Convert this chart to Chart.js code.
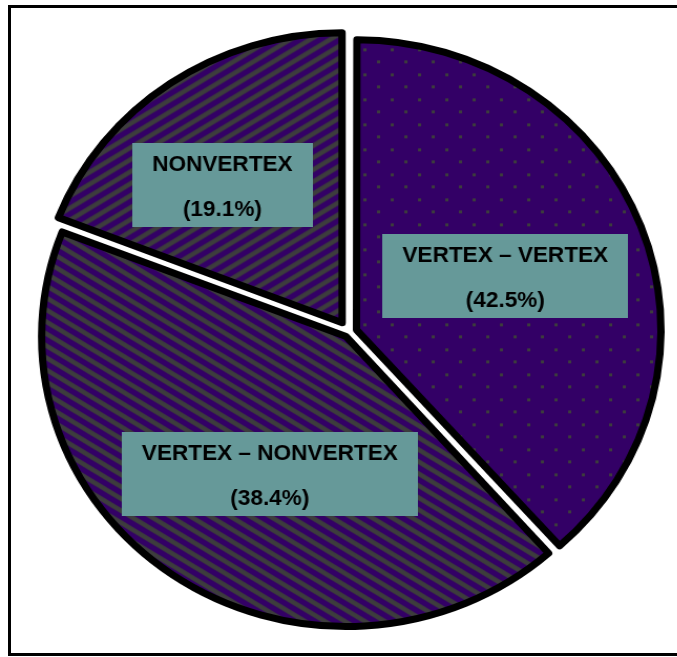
<!DOCTYPE html>
<html lang="en">
<head>
  <meta charset="UTF-8" />
  <title>Vertex pie</title>
  <script src="https://cdn.jsdelivr.net/npm/chart.js"></script>
  <style>
    html, body { margin: 0; padding: 0; background: #fff; overflow: hidden; }
    body { width: 677px; height: 657px; position: relative; }
    #frame {
      position: absolute; left: 8px; top: 5px;
      width: 700px; height: 645px;
      border: 3px solid #000;
    }
    /* the original pie is a little wider than tall */
    #wrap {
      position: absolute; left: 0; top: 0;
      transform: scaleX(1.05); transform-origin: 0 0;
    }
  </style>
</head>
<body>
  <div id="frame"></div>
  <div id="wrap"><canvas id="pie" width="665" height="665"></canvas></div>

  <script>
    // slices clockwise from 12 o'clock
    const categories = ['VERTEX – VERTEX', 'VERTEX – NONVERTEX', 'NONVERTEX'];
    // angular size of each slice as it is drawn in the picture
    const sliceShares = [38.4, 42.5, 19.1];
    // percentage text printed in each slice's box
    const shareLabels = ['(42.5%)', '(38.4%)', '(19.1%)'];

    const PURPLE = '#330066';
    const GREY = '#3d3d3d';

    function makeTile(w, h, draw) {
      const c = document.createElement('canvas');
      c.width = w; c.height = h;
      const g = c.getContext('2d');
      g.fillStyle = PURPLE;
      g.fillRect(0, 0, w, h);
      draw(g, w, h);
      return document.createElement('canvas').getContext('2d').createPattern(c, 'repeat');
    }

    const dots = makeTile(26, 25, (g) => {
      g.fillStyle = GREY;
      g.fillRect(1, 1, 3, 3);
      g.fillRect(14, 13, 3, 3);
    });

    // dir 1 = "/" , dir -1 = "\"
    const stripes = (dir) => makeTile(19, 12, (g, w, h) => {
      g.strokeStyle = GREY;
      g.lineWidth = 4.7;
      for (let k = -2; k <= 2; k++) {
        g.beginPath();
        if (dir > 0) { g.moveTo(k * w - w, 2 * h); g.lineTo(k * w + 2 * w, -h); }
        else { g.moveTo(k * w - w, -h); g.lineTo(k * w + 2 * w, 2 * h); }
        g.stroke();
      }
    });

    // chart.js grows an offset arc's radius a little (offset/4 * fix); take that back so all slices share one radius
    const evenRadius = {
      id: 'evenRadius',
      afterDatasetUpdate(chart, args) {
        args.meta.data.forEach(arc => {
          const o = (arc.options.offset || 0) / 4;
          const fix = 1 - Math.sin(Math.min(Math.PI, arc.circumference));
          arc.outerRadius -= o * fix;
        });
      }
    };

    const sliceLabels = {
      id: 'sliceLabels',
      afterDatasetsDraw(chart, args, opts) {
        const ctx = chart.ctx;
        const meta = chart.getDatasetMeta(0);
        ctx.save();
        ctx.font = 'bold 21.5px "Liberation Sans", Arial, sans-serif';
        ctx.textAlign = 'center';
        ctx.textBaseline = 'alphabetic';
        meta.data.forEach((arc, i) => {
          const mid = (arc.startAngle + arc.endAngle) / 2;
          const r = opts.radius * opts.radiusFrac;
          const n = opts.nudge[i];
          const x = arc.x + Math.cos(mid) * r + n[0];
          const y = arc.y + Math.sin(mid) * r + n[1];
          const lines = [categories[i], shareLabels[i]];
          const w = Math.max(...lines.map(t => ctx.measureText(t).width)) + 2 * opts.pad;
          const h = 84;
          ctx.fillStyle = '#669999';
          ctx.fillRect(Math.round(x - w / 2), Math.round(y - h / 2), Math.round(w), h);
          ctx.fillStyle = '#000';
          ctx.fillText(lines[0], x, y - 22 + 7.7);
          ctx.fillText(lines[1], x, y + 23 + 7.7);
        });
        ctx.restore();
      }
    };

    window.addEventListener('DOMContentLoaded', () => {
      new Chart(document.getElementById('pie'), {
        type: 'pie',
        data: {
          labels: categories,
          datasets: [{
            data: sliceShares,
            backgroundColor: [dots, stripes(-1), stripes(1)],
            borderColor: '#000',
            borderWidth: 7,
            borderJoinStyle: 'round',
            offset: [30, 20, 47],
            hoverOffset: 0,
            radius: 290
          }]
        },
        options: {
          responsive: false,
          animation: false,
          radius: 290,
          layout: { padding: 0 },
          events: [],
          plugins: {
            legend: { display: false },
            tooltip: { enabled: false },
            sliceLabels: {
              radius: 290,
              radiusFrac: 0.56,
              pad: 19,
              nudge: [[-3, 1.5], [17, 8.5], [-29, -13]]
            }
          }
        },
        plugins: [evenRadius, sliceLabels]
      });
    });
  </script>
</body>
</html>
